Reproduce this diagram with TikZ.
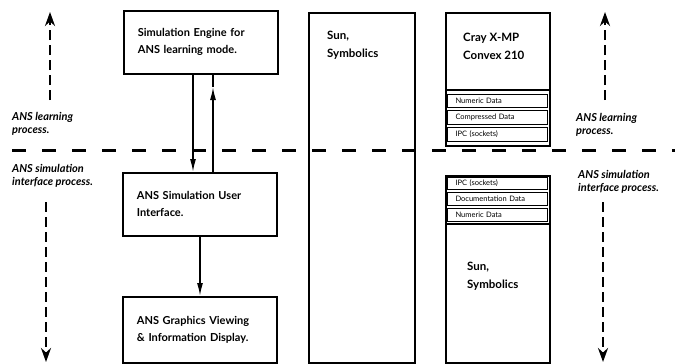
\documentclass[tikz,border=0pt]{standalone}
\usepackage{fontspec}
\setmainfont{Lato}
\usetikzlibrary{arrows.meta,calc}
\begin{document}
\begin{tikzpicture}[x=1pt,y=-1pt,
  box/.style={draw, line width=1.8pt, anchor=north west, inner sep=0pt},
  boxtext/.style={font=\bfseries\fontsize{11}{17}\selectfont, align=left},
  toptext/.style={font=\bfseries\fontsize{11.5}{18}\selectfont, align=left, anchor=north west, inner sep=0pt},
  side/.style={font=\bfseries\itshape\fontsize{11}{13.5}\selectfont, align=left, anchor=north west, inner sep=0pt},
  datarow/.style={draw, line width=1.1pt, anchor=north west, minimum width=100pt,
    inner sep=0pt, inner xsep=8pt, text width=84pt, align=left,
    font=\fontsize{7.5}{8}\selectfont},
  flow/.style={line width=1.5pt, -{Latex[length=13pt,width=6pt]}},
  stem/.style={line width=1.5pt},
  span/.style={line width=2.4pt, dash pattern=on 10pt off 5pt, -{Stealth[length=14pt,width=10pt]}},
  divider/.style={line width=3pt, dash pattern=on 14pt off 16pt}]
\useasboundingbox (0,0) rectangle (675,364);

% boundary between the learning and the simulation processes
\coordinate (divL) at (12,150);
\coordinate (divR) at (675,150);
\draw[divider] (divL) -- (divR);

% process chain
\node[box, boxtext, minimum width=154pt, minimum height=63pt, text width=126pt] (eng) at (123,10)
  {Simulation Engine for\\ANS learning mode.};
\node[box, boxtext, minimum width=154pt, minimum height=63pt, text width=126pt] (ui) at (122,172)
  {ANS Simulation User\\Interface.};
\node[box, boxtext, minimum width=154pt, minimum height=66pt, text width=126pt] (gfx) at (122,296)
  {ANS Graphics Viewing\\\& Information Display.};

\draw[flow] (193,0 |- eng.south) -- (193,0 |- ui.north);
\coordinate (uptip) at (213,87);
\draw[stem] (uptip) -- (213,0 |- eng.south);
\draw[flow] (213,0 |- ui.north) -- (uptip);
\draw[flow] (200,0 |- ui.south) -- (200,0 |- gfx.north);

% host column
\node[box, minimum width=106pt, minimum height=350pt] (host) at (308,12) {};
\node[toptext] (hosttxt) at (327,31) {Sun,\\Symbolics};

% supercomputer side
\node[box, minimum width=104pt, minimum height=133pt] (cray) at (445,12) {};
\node[toptext] (craytxt) at (463,33) {Cray X-MP\\Convex 210};
\coordinate (craysepL) at (445,90);
\coordinate (craysepR) at (549,90);
\draw[line width=1.2pt] (craysepL) -- (craysepR);
\node[datarow, minimum height=13pt] (c1) at (447,94) {Numeric Data};
\node[datarow, minimum height=14pt] (c2) at (447,110) {Compressed Data};
\node[datarow, minimum height=14pt] (c3) at (447,127) {IPC (sockets)};

% workstation side
\node[box, minimum width=104pt, minimum height=187pt] (ws) at (445,175) {};
\node[datarow, minimum height=12pt] (w1) at (447,177) {IPC (sockets)};
\node[datarow, minimum height=13pt] (w2) at (447,192) {Documentation Data};
\node[datarow, minimum height=13pt] (w3) at (447,208) {Numeric Data};
\coordinate (wssepL) at (445,224);
\coordinate (wssepR) at (549,224);
\draw[line width=1.2pt] (wssepL) -- (wssepR);
\node[toptext] (wstxt) at (467,262) {Sun,\\Symbolics};

% process labels and extents
\node[side] (learnL) at (12,112) {ANS learning\\process.};
\node[side] (simL) at (12,164) {ANS simulation\\interface process.};
\node[side] (learnR) at (576,113) {ANS learning\\process.};
\node[side] (simR) at (578,170) {ANS simulation\\interface process.};

\coordinate (upLa) at (50,100);  \coordinate (upLb) at (50,12);
\coordinate (dnLa) at (46,202);  \coordinate (dnLb) at (46,362);
\coordinate (upRa) at (605,100); \coordinate (upRb) at (605,12);
\coordinate (dnRa) at (603,202); \coordinate (dnRb) at (603,362);
\draw[span] (upLa) -- (upLb);
\draw[span] (dnLa) -- (dnLb);
\draw[span] (upRa) -- (upRb);
\draw[span] (dnRa) -- (dnRb);
\end{tikzpicture}
\end{document}
